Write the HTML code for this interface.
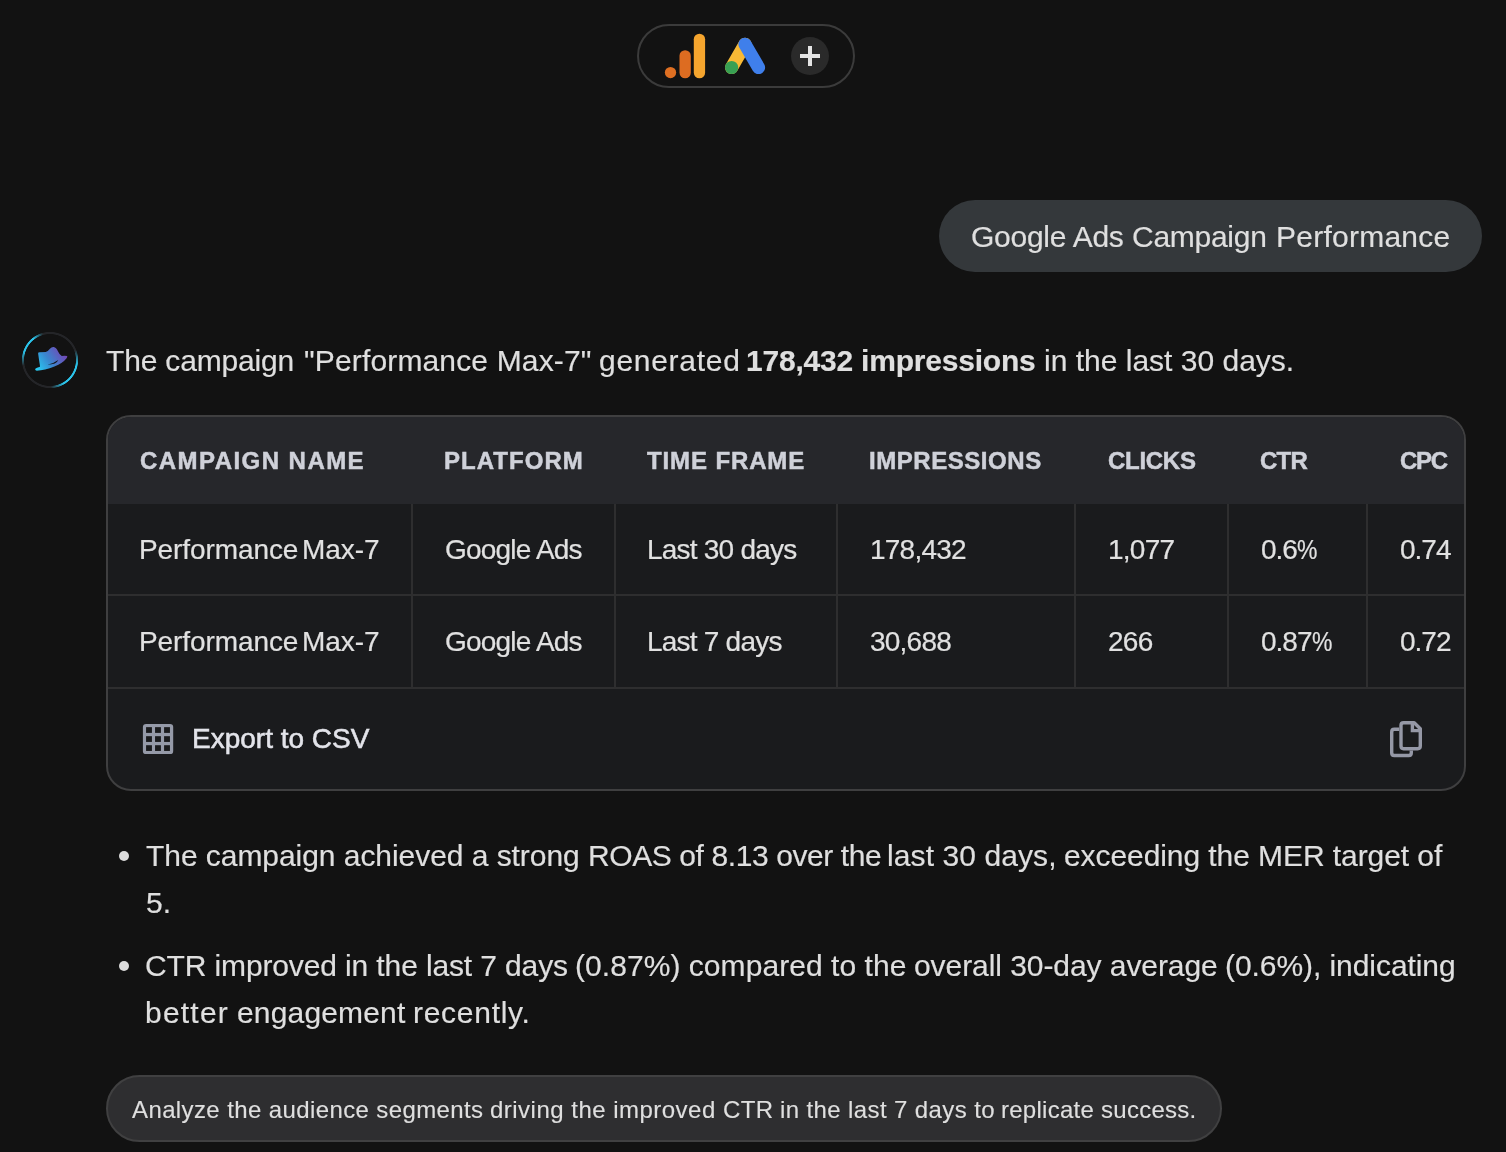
<!DOCTYPE html>
<html>
<head>
<meta charset="utf-8">
<style>
html,body{margin:0;padding:0;}
body{width:1506px;height:1152px;overflow:hidden;background:#121212;position:relative;
  font-family:"Liberation Sans",sans-serif;color:#e6e6e6;}
.abs{position:absolute;}
.t{position:absolute;white-space:nowrap;line-height:1;will-change:transform;}
/* top pill */
#pill{left:637px;top:24px;width:214px;height:60px;border:2px solid #3b3b3b;border-radius:32px;}
#plus{left:791px;top:37px;width:38px;height:38px;border-radius:50%;background:#2a2a2a;}
#plus:before{content:"";position:absolute;left:9px;top:17px;width:20px;height:4px;background:#e4e4e4;}
#plus:after{content:"";position:absolute;left:17px;top:9px;width:4px;height:20px;background:#e4e4e4;}
/* user bubble */
#bubble{left:939px;top:200px;width:543px;height:72px;border-radius:36px;background:#34383b;}
/* card */
#card{left:106px;top:415px;width:1356px;height:372px;border:2px solid #3f3f40;border-radius:25px;background:#1a1b1d;overflow:hidden;}
#thead{left:0;top:0;width:1356px;height:87px;background:#26272b;}
.vl{position:absolute;top:87px;width:2px;height:185px;background:#2e2e2f;}
.hl{position:absolute;left:0;width:1356px;height:2px;background:#2e2e2f;}
.th{font-weight:bold;font-size:24px;color:#cfd1d9;letter-spacing:1.5px;-webkit-text-stroke:0.5px #cfd1d9;}
.pc{display:inline-block;transform:scaleX(.82);transform-origin:0 50%;}
.td{font-size:28px;color:#e1e1e1;-webkit-text-stroke:0.2px #e1e1e1;}
.p{font-size:30px;color:#dfdfdf;-webkit-text-stroke:0.2px #dfdfdf;}
.ch{font-size:24px;color:#dfdfdf;-webkit-text-stroke:0.15px #dfdfdf;}
#chip{left:106px;top:1075px;width:1112px;height:63px;border:2px solid #404041;border-radius:34px;background:#2e2e30;}
.dot{position:absolute;width:10.4px;height:10.4px;border-radius:50%;background:#dcdcdc;}
</style>
</head>
<body>

<!-- top pill -->
<div id="pill" class="abs"></div>
<svg class="abs" style="left:660px;top:30px" width="50" height="52" viewBox="660 30 50 52">
  <circle cx="670.5" cy="72.6" r="5.65" fill="#de6f22"/>
  <rect x="679.5" y="50.2" width="11.3" height="28.1" rx="5.65" fill="#dd6c21"/>
  <rect x="693.8" y="33.7" width="11.3" height="44.6" rx="5.65" fill="#f5a52e"/>
</svg>
<svg class="abs" style="left:720px;top:32px" width="50" height="48" viewBox="720 32 50 48">
  <line x1="745" y1="44.3" x2="731.6" y2="67.5" stroke="#f8b935" stroke-width="13.2" stroke-linecap="round"/>
  <line x1="745" y1="44.3" x2="758.5" y2="67.5" stroke="#3f7feb" stroke-width="13.2" stroke-linecap="round"/>
  <circle cx="731.6" cy="67.5" r="6.6" fill="#38a053"/>
</svg>
<div id="plus" class="abs"></div>

<!-- user bubble -->
<div id="bubble" class="abs"></div>

<!-- avatar -->
<div class="abs" style="left:20px;top:330.3px;width:60px;height:60px;border-radius:50%;
  background:conic-gradient(from 0deg,#242528 0deg,#242528 68deg,#2bc3ea 100deg,#2bc3ea 150deg,#242528 178deg,#242528 258deg,#2bc3ea 288deg,#2bc3ea 322deg,#242528 345deg,#242528 360deg);
  -webkit-mask:radial-gradient(circle closest-side,transparent 25.6px,#000 26.3px,#000 27.7px,transparent 28.4px);
  mask:radial-gradient(circle closest-side,transparent 25.6px,#000 26.3px,#000 27.7px,transparent 28.4px);"></div>
<svg class="abs" style="left:10px;top:320px" width="80" height="80" viewBox="0 0 1152 1152">
  <defs>
    <linearGradient id="hg" x1="380" y1="720" x2="800" y2="440" gradientUnits="userSpaceOnUse">
      <stop offset="0" stop-color="#27d0f5"/>
      <stop offset="0.45" stop-color="#3a86cf"/>
      <stop offset="1" stop-color="#7a3fb2"/>
    </linearGradient>
  </defs>
  <path d="M405 484 Q403 466 425 465 L515 462 Q545 455 575 415 Q600 385 630 390 Q665 395 690 450 Q715 505 745 520 Q790 512 822 520 Q832 530 815 550 Q760 620 640 670 Q500 725 385 732 Q352 724 365 703 Q380 688 432 674 L430 648 Q415 560 405 484 Z" fill="url(#hg)"/>
  <path d="M540 645 Q635 622 696 576 Q668 640 540 645 Z" fill="#121212"/>
</svg>

<div class="t p" id="l1b" style="left:746.3px;top:346px;font-weight:bold;letter-spacing:-0.21px;">178,432 impressions</div>
<div class="t p" id="l1c" style="left:1044px;top:346px;">in the last 30 days.</div>

<!-- card -->
<div id="card" class="abs">
  <div id="thead" class="abs"></div>
  <div class="hl" style="top:177px"></div>
  <div class="hl" style="top:270px"></div>
  <div class="vl" style="left:303px"></div>
  <div class="vl" style="left:506px"></div>
  <div class="vl" style="left:728px"></div>
  <div class="vl" style="left:966px"></div>
  <div class="vl" style="left:1119px"></div>
  <div class="vl" style="left:1258px"></div>
</div>

<div class="t th" id="h1" style="left:140.4px;top:449px;letter-spacing:1.45px;">CAMPAIGN NAME</div>
<div class="t th" id="h2" style="left:444.3px;top:449px;letter-spacing:1.04px;">PLATFORM</div>
<div class="t th" id="h3" style="left:647.3px;top:449px;letter-spacing:0.88px;">TIME FRAME</div>
<div class="t th" id="h4" style="left:869px;top:449px;letter-spacing:0.55px;">IMPRESSIONS</div>
<div class="t th" id="h5" style="left:1107.9px;top:449px;letter-spacing:-0.28px;">CLICKS</div>
<div class="t th" id="h6" style="left:1260px;top:449px;letter-spacing:-0.75px;">CTR</div>
<div class="t th" id="h7" style="left:1399.5px;top:449px;letter-spacing:-1.25px;">CPC</div>

<div class="t td" id="a2" style="left:444.5px;top:536.3px;letter-spacing:-0.8px;">Google Ads</div>
<div class="t td" id="a3" style="left:647px;top:536.3px;letter-spacing:-0.78px;">Last 30 days</div>
<div class="t td" id="a4" style="left:869.5px;top:536.3px;letter-spacing:-0.78px;">178,432</div>
<div class="t td" id="a5" style="left:1108px;top:536.3px;letter-spacing:-0.75px;">1,077</div>
<div class="t td" id="a6" style="left:1261px;top:536.3px;letter-spacing:-1px;">0.6<span class="pc">%</span></div>
<div class="t td" id="a7" style="left:1400px;top:536.3px;letter-spacing:-1px;">0.74</div>

<div class="t td" id="b2" style="left:444.5px;top:627.8px;letter-spacing:-0.8px;">Google Ads</div>
<div class="t td" id="b3" style="left:647px;top:627.8px;letter-spacing:-0.78px;">Last 7 days</div>
<div class="t td" id="b4" style="left:869.5px;top:627.8px;letter-spacing:-0.78px;">30,688</div>
<div class="t td" id="b5" style="left:1108px;top:627.8px;letter-spacing:-0.75px;">266</div>
<div class="t td" id="b6" style="left:1261px;top:627.8px;letter-spacing:-1px;">0.87<span class="pc">%</span></div>
<div class="t td" id="b7" style="left:1400px;top:627.8px;letter-spacing:-1px;">0.72</div>

<!-- export -->
<svg class="abs" style="left:140px;top:720px" width="40" height="40" viewBox="140 720 40 40"><rect x="142.9" y="723.9" width="30.3" height="30.2" rx="3.2" fill="#959aa8"/><rect x="146.07" y="727.15" width="5.86" height="5.75" fill="#1a1b1d"/><rect x="155.05" y="727.15" width="5.86" height="5.75" fill="#1a1b1d"/><rect x="164.08" y="727.15" width="5.86" height="5.75" fill="#1a1b1d"/><rect x="146.07" y="736.18" width="5.86" height="5.75" fill="#1a1b1d"/><rect x="155.05" y="736.18" width="5.86" height="5.75" fill="#1a1b1d"/><rect x="164.08" y="736.18" width="5.86" height="5.75" fill="#1a1b1d"/><rect x="146.07" y="745.2" width="5.86" height="5.75" fill="#1a1b1d"/><rect x="155.05" y="745.2" width="5.86" height="5.75" fill="#1a1b1d"/><rect x="164.08" y="745.2" width="5.86" height="5.75" fill="#1a1b1d"/></svg>
<div class="t td" id="t_export" style="left:192px;top:725.3px;color:#e3e4ea;-webkit-text-stroke:0.55px #e3e4ea;letter-spacing:0px;">Export to CSV</div>

<svg class="abs" style="left:1388px;top:719px" width="36" height="40" viewBox="1388 719 36 40">
  <path d="M1399.2 729.3H1394.3Q1391.7 729.3 1391.7 731.9V753Q1391.7 755.5 1394.3 755.5H1408.7Q1411.3 755.5 1411.3 753V750.4" fill="none" stroke="#9598a6" stroke-width="3.4"/>
  <path d="M1403.6 722.7H1414.2L1420.3 728.8V746.1Q1420.3 748.7 1417.7 748.7H1403.6Q1401 748.7 1401 746.1V725.3Q1401 722.7 1403.6 722.7Z" fill="none" stroke="#9598a6" stroke-width="3.4" stroke-linejoin="round"/>
  <path d="M1412.4 723V730.6H1420" fill="none" stroke="#9598a6" stroke-width="3.4"/>
</svg>

<!-- bullets -->
<div class="dot" style="left:118.8px;top:850.8px"></div>
<div class="t p" id="p2" style="left:146px;top:888px;">5.</div>
<div class="dot" style="left:118.8px;top:960.8px"></div>

<!-- chip -->
<div id="chip" class="abs"></div>
<!--FIT-->
<div class="t p" id="bu1" style="left:971.00px;top:222px;letter-spacing:-0.256px;">Google Ads</div>
<div class="t p" id="bu2" style="left:1131.60px;top:222px;letter-spacing:-0.271px;">Campaign</div>
<div class="t p" id="bu3" style="left:1275.60px;top:222px;letter-spacing:0.250px;">Performance</div>
<div class="t p" id="l1a1" style="left:106.40px;top:346px;letter-spacing:-0.173px;">The campaign</div>
<div class="t p" id="l1a2" style="left:303.60px;top:346px;letter-spacing:0.150px;">&quot;Performance Max-7&quot;</div>
<div class="t p" id="l1a3" style="left:598.80px;top:346px;letter-spacing:0.712px;">generated</div>
<div class="t td" id="a1a" style="left:138.60px;top:536.3px;letter-spacing:-0.090px;">Performance</div>
<div class="t td" id="a1b" style="left:302.00px;top:536.3px;letter-spacing:-0.075px;">Max-7</div>
<div class="t td" id="b1a" style="left:138.60px;top:627.8px;letter-spacing:-0.090px;">Performance</div>
<div class="t td" id="b1b" style="left:302.00px;top:627.8px;letter-spacing:-0.075px;">Max-7</div>
<div class="t p" id="p4a" style="left:145.40px;top:997.5px;letter-spacing:1.220px;">better</div>
<div class="t p" id="p4b" style="left:236.60px;top:997.5px;letter-spacing:0.167px;">engagement</div>
<div class="t p" id="p4c" style="left:413.00px;top:997.5px;letter-spacing:0.725px;">recently.</div>
<div class="t p" id="p1a" style="left:146.00px;top:841px;letter-spacing:-0.052px;">The campaign achieved a strong</div>
<div class="t p" id="p1b" style="left:588.00px;top:841px;letter-spacing:-0.405px;">ROAS of 8.13 over the</div>
<div class="t p" id="p1c" style="left:887.40px;top:841px;letter-spacing:0.092px;">last 30 days,</div>
<div class="t p" id="p1d" style="left:1063.60px;top:841px;letter-spacing:-0.077px;">exceeding the MER target of</div>
<div class="t p" id="p3a" style="left:145.00px;top:950.5px;letter-spacing:-0.127px;">CTR improved in the last 7 days</div>
<div class="t p" id="p3b" style="left:574.80px;top:950.5px;letter-spacing:0.055px;">(0.87%) compared to the</div>
<div class="t p" id="p3c" style="left:914.40px;top:950.5px;letter-spacing:-0.067px;">overall 30-day average</div>
<div class="t p" id="p3d" style="left:1224.80px;top:950.5px;letter-spacing:-0.065px;">(0.6%), indicating</div>
<div class="t ch" id="c1" style="left:132.20px;top:1097.6px;letter-spacing:0.389px;">Analyze the audience segments</div>
<div class="t ch" id="c2" style="left:490.20px;top:1097.6px;letter-spacing:0.483px;">driving the improved CTR</div>
<div class="t ch" id="c3" style="left:779.80px;top:1097.6px;letter-spacing:0.390px;">in the last 7 days to</div>
<div class="t ch" id="c4" style="left:1001.00px;top:1097.6px;letter-spacing:0.265px;">replicate success.</div>
<!--/FIT-->

</body>
</html>
